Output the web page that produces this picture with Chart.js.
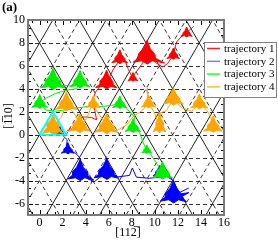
<!DOCTYPE html>
<html><head><meta charset="utf-8">
<script src="https://cdn.jsdelivr.net/npm/chart.js@4/dist/chart.umd.min.js"></script>
<style>html,body{margin:0;padding:0;background:#fff;overflow:hidden}</style>
</head><body>
<canvas id="c" width="278" height="240"></canvas>
<script>
// ---------- data ----------
const xTicks = [0, 2, 4, 6, 8, 10, 12, 14, 16];
const yTicks = [-6, -4, -2, 0, 2, 4, 6, 8, 10];
const xRange = [-1, 16];
const yRange = [-7, 10];
const seriesNames = ['trajectory 1', 'trajectory 2', 'trajectory 3', 'trajectory 4'];
const seriesColors = ['#ff0000', '#0000ff', '#00ee00', '#ffa500'];
const legendColors = ['#ff2020', '#8080ff', '#20ff20', '#ffb840'];
const hLines = [-6, -4, -2, 0, 2, 4, 6, 8];
const latticeSide = 2.309;
const latticeRowStep = 2;
const cyanTriangle = [[0, 0], [2.309, 0], [1.155, 2], [0, 0]];

// trajectory 1 (red)
const path1 = [[2.35,0.30],[2.80,0.55],[3.20,1.05],[3.45,1.45],[3.90,1.55],[4.50,1.50],[4.95,1.30],[4.80,2.10],[4.60,3.00],[4.85,3.70],[5.30,4.30],[5.80,4.60],[6.30,4.40],[6.10,5.10],[6.40,5.70],[6.75,6.20],[6.95,6.70],[7.45,6.40],[7.70,5.70],[8.05,5.00],[8.40,5.50],[8.85,6.10],[9.30,6.90],[10.20,6.20],[10.70,5.90],[11.10,6.20],[11.60,6.90],[11.75,7.60],[11.90,8.10],[12.25,8.50],[12.75,8.90],[13.10,9.20],[13.35,9.45]];
const blobs1 = [
 [[5.82,5.62],[6.05,5.02],[6.36,4.64],[6.40,4.37],[6.74,4.09],[6.18,4.20],[5.84,3.98],[5.46,4.21],[4.86,4.11],[5.20,4.37],[5.24,4.68],[5.55,5.02]],
 [[6.97,7.40],[7.13,6.96],[7.36,6.68],[7.39,6.49],[7.64,6.27],[7.23,6.36],[6.98,6.19],[6.70,6.36],[6.26,6.29],[6.51,6.49],[6.54,6.71],[6.77,6.96]],
 [[9.33,8.24],[9.61,7.48],[10.01,7.00],[10.06,6.66],[10.85,6.25],[9.78,6.45],[9.35,6.16],[8.87,6.45],[8.12,6.32],[8.54,6.66],[8.59,7.05],[8.99,7.48]],
 [[8.11,5.42],[8.22,5.14],[8.36,4.97],[8.38,4.85],[8.54,4.71],[8.28,4.77],[8.12,4.66],[7.94,4.77],[7.66,4.72],[7.82,4.85],[7.84,4.99],[7.98,5.14]],
 [[11.61,7.56],[11.75,7.20],[11.94,6.97],[11.96,6.82],[12.16,6.64],[11.83,6.71],[11.62,6.58],[11.40,6.71],[11.04,6.65],[11.24,6.82],[11.26,7.00],[11.45,7.20]],
 [[12.76,9.39],[12.88,9.07],[13.05,8.87],[13.07,8.73],[13.25,8.58],[12.95,8.64],[12.77,8.52],[12.57,8.64],[12.25,8.59],[12.43,8.73],[12.45,8.89],[12.62,9.07]]
];

// trajectory 2 (blue)
const path2 = [[1.75,0.30],[2.05,-0.10],[2.40,-0.45],[2.35,-0.90],[2.45,-1.35],[3.05,-1.55],[3.45,-1.95],[3.65,-2.50],[3.50,-3.30],[4.20,-3.85],[4.75,-4.10],[5.25,-3.70],[5.80,-3.30],[6.60,-3.70],[7.80,-3.55],[8.05,-2.90],[8.40,-3.70],[9.50,-3.80],[10.40,-3.70],[10.95,-3.60],[11.55,-3.95],[11.75,-4.40],[11.60,-5.30],[12.95,-4.65]];
const blobs2 = [
 [[1.76,0.71],[1.85,0.47],[1.98,0.32],[1.99,0.21],[2.13,0.10],[1.90,0.14],[1.77,0.06],[1.62,0.14],[1.38,0.11],[1.51,0.21],[1.53,0.33],[1.65,0.47]],
 [[2.46,-0.69],[2.60,-1.05],[2.79,-1.28],[2.81,-1.43],[3.01,-1.61],[2.68,-1.54],[2.47,-1.67],[2.25,-1.54],[1.89,-1.60],[2.09,-1.43],[2.11,-1.25],[2.30,-1.05]],
 [[3.53,-2.15],[3.78,-2.83],[4.14,-3.26],[4.18,-3.56],[4.70,-3.95],[3.93,-3.75],[3.54,-4.00],[3.12,-3.75],[2.44,-3.86],[2.82,-3.56],[2.86,-3.22],[3.22,-2.83]],
 [[5.83,-2.05],[6.08,-2.73],[6.44,-3.16],[6.48,-3.46],[6.86,-3.80],[6.23,-3.65],[5.84,-3.90],[5.42,-3.65],[4.74,-3.76],[5.12,-3.46],[5.16,-3.12],[5.52,-2.73]],
 [[10.41,-2.69],[10.55,-3.05],[10.74,-3.28],[10.76,-3.43],[10.96,-3.61],[10.63,-3.54],[10.42,-3.67],[10.20,-3.54],[9.84,-3.60],[10.04,-3.43],[10.06,-3.25],[10.25,-3.05]],
 [[11.63,-4.00],[11.90,-4.70],[12.28,-5.15],[12.95,-5.05],[12.40,-5.35],[12.50,-5.60],[12.75,-5.85],[12.05,-5.67],[11.64,-5.95],[11.20,-5.67],[10.48,-5.79],[10.88,-5.47],[10.93,-5.11],[11.30,-4.70]]
];

// trajectory 3 (green)
const path3 = [[1.15,4.60],[1.90,4.30],[2.70,4.25],[3.50,4.60],[3.20,4.00],[2.40,3.90],[1.40,3.60],[0.60,3.20],[0.00,2.80],[0.55,2.15],[1.40,2.05],[2.10,2.15],[2.90,2.30],[3.80,2.40],[4.40,2.50],[5.30,2.45],[6.20,2.55],[6.95,2.70],[7.55,2.30],[8.25,1.55],[8.10,0.70],[8.70,0.15],[8.95,-0.60],[9.30,-1.35],[9.60,-1.65],[10.25,-2.65],[10.60,-3.30]];
const blobs3 = [
 [[1.18,5.80],[1.43,5.12],[1.79,4.69],[1.83,4.40],[2.21,4.08],[1.58,4.20],[1.19,3.95],[0.77,4.20],[0.09,4.09],[0.47,4.40],[0.51,4.74],[0.87,5.12]],
 [[3.52,5.60],[3.73,5.04],[4.03,4.69],[4.06,4.44],[4.38,4.18],[3.85,4.28],[3.54,4.08],[3.19,4.28],[2.63,4.19],[2.94,4.44],[2.98,4.72],[3.27,5.04]],
 [[0.02,3.50],[0.18,3.06],[0.41,2.78],[0.44,2.59],[0.69,2.38],[0.28,2.46],[0.03,2.29],[-0.25,2.46],[-0.69,2.39],[-0.44,2.59],[-0.41,2.81],[-0.18,3.06]],
 [[6.97,3.38],[7.12,2.98],[7.33,2.73],[7.35,2.55],[7.58,2.36],[7.20,2.44],[6.98,2.29],[6.73,2.44],[6.33,2.37],[6.55,2.55],[6.58,2.75],[6.78,2.98]],
 [[8.12,1.40],[8.28,0.96],[8.51,0.68],[8.54,0.49],[8.79,0.28],[8.38,0.36],[8.13,0.19],[7.85,0.36],[7.41,0.29],[7.66,0.49],[7.69,0.71],[7.92,0.96]],
 [[9.31,-0.88],[9.42,-1.16],[9.56,-1.33],[9.58,-1.45],[9.74,-1.59],[9.48,-1.53],[9.32,-1.64],[9.14,-1.53],[8.86,-1.58],[9.02,-1.45],[9.04,-1.31],[9.18,-1.16]],
 [[10.67,-2.35],[10.88,-2.91],[11.18,-3.26],[11.21,-3.51],[11.53,-3.77],[11.00,-3.67],[10.69,-3.87],[10.34,-3.67],[9.78,-3.76],[10.09,-3.51],[10.13,-3.23],[10.42,-2.91]]
];

// trajectory 4 (orange)
const path4 = [[1.15,0.70],[1.90,1.55],[2.30,2.60],[2.95,1.95],[3.35,1.25],[3.45,0.70],[4.10,1.45],[4.40,2.20],[4.60,2.70],[5.00,2.00],[5.45,1.40],[5.80,0.70],[6.50,0.25],[7.55,0.85],[8.10,1.55],[8.95,2.15],[9.40,2.75],[9.35,4.10],[9.45,2.80],[9.95,1.95],[10.40,0.80],[10.35,1.85],[11.00,2.10],[11.60,3.10],[12.40,2.30],[13.20,2.05],[13.85,2.70],[14.50,2.15],[14.85,1.55],[15.05,0.75],[15.70,0.55]];
const blobs4 = [
 [[1.18,1.75],[1.40,1.15],[1.68,0.95],[1.66,0.62],[2.05,0.12],[1.70,0.25],[1.25,0.02],[0.85,0.25],[0.25,0.12],[0.65,0.62],[0.62,1.00],[0.91,1.15]],
 [[2.33,3.72],[2.56,3.12],[2.87,2.74],[2.91,2.48],[3.25,2.20],[2.69,2.31],[2.35,2.08],[1.97,2.31],[1.37,2.21],[1.71,2.48],[1.75,2.78],[2.06,3.12]],
 [[3.48,1.82],[3.71,1.22],[4.02,0.84],[4.06,0.58],[4.40,0.30],[3.84,0.41],[3.50,0.18],[3.12,0.41],[2.52,0.31],[2.86,0.58],[2.90,0.88],[3.21,1.22]],
 [[4.67,3.38],[4.82,2.98],[5.03,2.73],[5.05,2.55],[5.28,2.36],[4.90,2.44],[4.68,2.29],[4.43,2.44],[4.03,2.37],[4.25,2.55],[4.28,2.75],[4.48,2.98]],
 [[5.82,1.83],[6.06,1.19],[6.40,0.79],[6.44,0.51],[6.80,0.21],[6.20,0.33],[5.84,0.09],[5.44,0.33],[4.80,0.23],[5.16,0.51],[5.20,0.83],[5.54,1.19]],
 [[9.47,3.43],[9.62,3.03],[9.83,2.78],[9.85,2.60],[10.08,2.41],[9.70,2.49],[9.48,2.34],[9.23,2.49],[8.83,2.42],[9.05,2.60],[9.08,2.80],[9.28,3.03]],
 [[10.42,1.95],[10.55,1.40],[10.72,1.05],[10.75,0.70],[10.95,0.25],[10.60,0.40],[10.42,0.15],[10.20,0.40],[9.88,0.28],[10.08,0.70],[10.10,1.05],[10.28,1.40]],
 [[11.62,4.10],[11.83,3.54],[12.13,3.19],[12.16,2.94],[12.48,2.68],[11.95,2.78],[11.64,2.58],[11.29,2.78],[10.73,2.69],[11.04,2.94],[11.08,3.22],[11.37,3.54]],
 [[13.87,3.56],[14.05,3.08],[14.30,2.78],[14.33,2.57],[14.60,2.34],[14.15,2.43],[13.88,2.25],[13.58,2.43],[13.10,2.35],[13.37,2.57],[13.40,2.81],[13.65,3.08]],
 [[15.07,1.63],[15.26,1.11],[15.54,0.78],[15.57,0.55],[15.86,0.30],[15.38,0.40],[15.08,0.21],[14.76,0.40],[14.24,0.32],[14.53,0.55],[14.56,0.81],[14.84,1.11]]
];

// ---------- build datasets ----------
const toXY = pts => pts.map(p => ({x: p[0], y: p[1]}));
const datasets = [];
datasets.push({label: 'cyan', data: toXY(cyanTriangle), showLine: true, borderColor: '#00ffff', borderWidth: 2, pointRadius: 0, fill: false, order: 0});
const paths = [path1, path2, path3, path4];
const blobSets = [blobs1, blobs2, blobs3, blobs4];
const layerOrder = [4, 3, 2, 1];
for (let s = 0; s < 4; s++) {
  datasets.push({label: seriesNames[s], data: toXY(paths[s]), showLine: true, borderColor: seriesColors[s], borderWidth: 1, pointRadius: 0, fill: false, order: layerOrder[s]});
  blobSets[s].forEach(b => {
    datasets.push({label: seriesNames[s] + ' cluster', data: toXY(b.concat([b[0]])), showLine: true, borderColor: seriesColors[s], backgroundColor: seriesColors[s], borderWidth: 1, pointRadius: 0, fill: 'shape', order: layerOrder[s]});
  });
}

// ---------- plugins ----------
const FONT = '"Liberation Serif", "Times New Roman", serif';
const latticePlugin = {
  id: 'lattice',
  beforeDatasetsDraw(chart) {
    const {ctx, chartArea: a, scales: {x, y}} = chart;
    ctx.save();
    ctx.beginPath(); ctx.rect(a.left, a.top, a.right - a.left, a.bottom - a.top); ctx.clip();
    ctx.lineWidth = 1; ctx.strokeStyle = '#333';
    ctx.setLineDash([4, 3]);
    for (const v of hLines) {
      const py = Math.round(y.getPixelForValue(v)) + 0.5;
      ctx.beginPath(); ctx.moveTo(a.left, py); ctx.lineTo(a.right, py); ctx.stroke();
    }
    const s = latticeSide / 2 / latticeRowStep;
    for (let k = -6; k <= 12; k++) {
      for (const dir of [1, -1]) {
        const x0 = k * latticeSide;
        const solid = Math.abs(k) % 2 === 0;
        ctx.setLineDash(solid ? [] : [4, 3]);
        ctx.strokeStyle = solid ? '#222' : '#333';
        const ya = yRange[0] - 1, yb = yRange[1] + 1;
        ctx.beginPath();
        ctx.moveTo(x.getPixelForValue(x0 + dir * ya * s), y.getPixelForValue(ya));
        ctx.lineTo(x.getPixelForValue(x0 + dir * yb * s), y.getPixelForValue(yb));
        ctx.stroke();
      }
    }
    ctx.restore();
  }
};
const framePlugin = {
  id: 'frame',
  afterDatasetsDraw(chart) {
    const {ctx, chartArea: a, scales: {x, y}} = chart;
    ctx.save();
    ctx.setLineDash([]);
    ctx.strokeStyle = '#000'; ctx.lineWidth = 1;
    const tick = (x1, y1, x2, y2) => { ctx.beginPath(); ctx.moveTo(x1, y1); ctx.lineTo(x2, y2); ctx.stroke(); };
    for (let j = -1; j <= 24; j++) {
      const v = j * 2 / 3;
      if (v < xRange[0] || v > xRange[1]) continue;
      const len = (j % 3 === 0) ? 5 : 3;
      const px = Math.round(x.getPixelForValue(v)) + 0.5;
      tick(px, a.bottom, px, a.bottom - len);
      tick(px, a.top, px, a.top + len);
    }
    for (let j = -12; j <= 15; j++) {
      const v = j * 2 / 3;
      if (v < yRange[0] || v > yRange[1]) continue;
      const len = (j % 3 === 0) ? 5 : 3;
      const py = Math.round(y.getPixelForValue(v)) + 0.5;
      tick(a.left, py, a.left + len, py);
      tick(a.right, py, a.right - len, py);
    }
    ctx.strokeStyle = '#7a7a7a'; ctx.lineWidth = 2;
    ctx.strokeRect(a.left, a.top, a.right - a.left, a.bottom - a.top);
    ctx.restore();
  },
  afterDraw(chart) {
    const {ctx} = chart;
    ctx.save();
    ctx.fillStyle = '#000';
    ctx.font = 'bold 13px ' + FONT;
    ctx.textAlign = 'left'; ctx.textBaseline = 'middle';
    ctx.fillText('(a)', 2, 8);
    ctx.font = '12px ' + FONT;
    ctx.textAlign = 'center';
    ctx.fillText('[112\u0305]', 128, 233);
    ctx.save();
    ctx.translate(9, 116); ctx.rotate(-Math.PI / 2);
    ctx.fillText('[1\u030510]', 0, 0);
    ctx.restore();
    // legend
    const lx = 204.5, ly = 42.5, lw = 72, lh = 55;
    ctx.fillStyle = '#fff'; ctx.fillRect(lx, ly, lw, lh);
    ctx.strokeStyle = '#808080'; ctx.lineWidth = 1; ctx.strokeRect(lx, ly, lw, lh);
    ctx.font = '11px ' + FONT; ctx.textAlign = 'left'; ctx.textBaseline = 'middle';
    for (let i = 0; i < 4; i++) {
      const yy = 48.5 + i * 12.8;
      ctx.strokeStyle = legendColors[i]; ctx.lineWidth = 1.5;
      ctx.beginPath(); ctx.moveTo(207, yy); ctx.lineTo(220, yy); ctx.stroke();
      ctx.fillStyle = '#000';
      ctx.fillText(seriesNames[i], 224, yy + 0.5);
    }
    ctx.restore();
  }
};

Chart.defaults.font.family = FONT;
Chart.defaults.color = '#000';
new Chart(document.getElementById('c'), {
  type: 'scatter',
  data: {datasets},
  options: {
    responsive: false, animation: false, events: [],
    layout: {padding: {left: 0, top: 20, right: 54, bottom: 0}},
    plugins: {legend: {display: false}, tooltip: {enabled: false}},
    scales: {
      x: {type: 'linear', min: xRange[0], max: xRange[1],
          grid: {display: false, drawTicks: false}, border: {display: false},
          ticks: {font: {size: 12}, padding: 1, maxRotation: 0},
          afterBuildTicks: s => { s.ticks = xTicks.map(v => ({value: v})); },
          afterFit: s => { s.height = 25; }},
      y: {type: 'linear', min: yRange[0], max: yRange[1],
          grid: {display: false, drawTicks: false}, border: {display: false},
          ticks: {font: {size: 12}, padding: 3},
          afterBuildTicks: s => { s.ticks = yTicks.map(v => ({value: v})); },
          afterFit: s => { s.width = 28; }}
    }
  },
  plugins: [latticePlugin, framePlugin]
});
</script>
</body></html>
